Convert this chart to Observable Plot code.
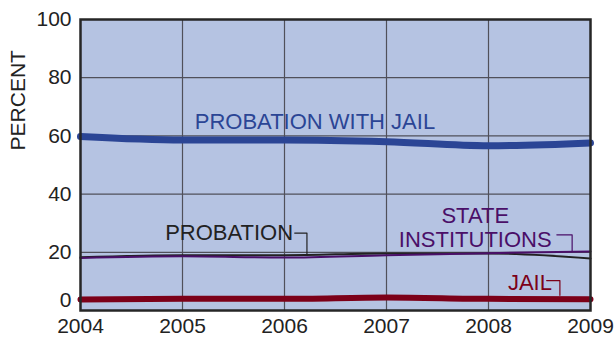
<!DOCTYPE html>
<html><head><meta charset="utf-8">
<script src="https://cdn.jsdelivr.net/npm/d3@7"></script>
<script src="https://cdn.jsdelivr.net/npm/@observablehq/plot@0.6"></script>
<style>body{margin:0;background:#fff;}</style>
</head><body><div id="chart"></div>
<script>
// ---- data ----
const years = [2004, 2005, 2006, 2007, 2008, 2009];
const probationWithJail = [59.8, 58.6, 58.6, 58.0, 56.6, 57.6];
const probation = [18.3, 19.0, 19.0, 19.6, 19.6, 17.9];
const stateInstitutions = [18.0, 18.6, 18.2, 19.0, 19.7, 20.3];
const jail = [3.8, 4.0, 4.0, 4.5, 4.0, 3.9];
const yTickValues = [20, 40, 60, 80, 100];
const zeroTick = [0];
const yLabel = "PERCENT";

// annotation labels (data coordinates)
const labelText = ["PROBATION WITH JAIL", "PROBATION", "STATE", "INSTITUTIONS", "JAIL"];
const labelSeries = ["PROBATION WITH JAIL", "PROBATION", "STATE INSTITUTIONS", "STATE INSTITUTIONS", "JAIL"];
const labelYear = [2005.12, 2004.83, 2007.87, 2007.87, 2008.19];
const labelValue = [64.8, 26.6, 32.4, 24.3, 9.3];
const labelAnchor = ["start", "start", "middle", "middle", "start"];
// leader lines: [series, year, value]
const leaderPts = [
  ["PROBATION", 2006.10, 26.6], ["PROBATION", 2006.22, 26.6], ["PROBATION", 2006.22, 19.3],
  ["STATE INSTITUTIONS", 2008.67, 26.0], ["STATE INSTITUTIONS", 2008.82, 26.0], ["STATE INSTITUTIONS", 2008.82, 20.5],
  ["JAIL", 2008.57, 10.3], ["JAIL", 2008.70, 10.3], ["JAIL", 2008.70, 5.2]
];

const colors = {
  "PROBATION WITH JAIL": "#2b4595",
  "PROBATION": "#222222",
  "STATE INSTITUTIONS": "#4a0f68",
  "JAIL": "#7c0019"
};
const widths = {"PROBATION WITH JAIL": 7, "PROBATION": 2, "STATE INSTITUTIONS": 2, "JAIL": 6};
const seriesOrder = ["PROBATION", "STATE INSTITUTIONS", "JAIL", "PROBATION WITH JAIL"];
const seriesVals = {
  "PROBATION WITH JAIL": probationWithJail,
  "PROBATION": probation,
  "STATE INSTITUTIONS": stateInstitutions,
  "JAIL": jail
};
const rows = seriesOrder.flatMap(s => years.map((y, i) => ({series: s, year: y, value: seriesVals[s][i]})));
const labels = labelText.map((t, i) => ({
  text: t, year: labelYear[i], value: labelValue[i], anchor: labelAnchor[i], color: colors[labelSeries[i]]
}));
const leaders = leaderPts.map(([s, y, v]) => ({series: s, year: y, value: v}));

const FONT = "'Liberation Sans', Arial, Helvetica, sans-serif";

const chart = Plot.plot({
  width: 614,
  height: 337,
  marginLeft: 80,
  marginRight: 24,
  marginTop: 19,
  marginBottom: 27,
  style: {fontFamily: FONT, fontSize: "21px", color: "#222", background: "#fff"},
  x: {domain: [2004, 2009], ticks: years, tickFormat: d => String(d), tickSize: 0, tickPadding: 8, label: null},
  y: {domain: [0, 100], ticks: yTickValues, tickSize: 0, tickPadding: 9, label: null},
  marks: [
    Plot.frame({fill: "#b5c3e2"}),
    Plot.ruleX(years.slice(1, -1), {stroke: "#50505a", strokeWidth: 1.2}),
    Plot.ruleY(yTickValues.slice(0, -1), {stroke: "#50505a", strokeWidth: 1.2}),
    ...seriesOrder.map(s => Plot.line(rows.filter(r => r.series === s), {
      x: "year", y: "value", stroke: colors[s], strokeWidth: widths[s], curve: "monotone-x"
    })),
    ...seriesOrder.filter(s => s !== "PROBATION WITH JAIL").map(s => Plot.line(leaders.filter(r => r.series === s), {
      x: "year", y: "value", stroke: colors[s], strokeWidth: 1.2
    })),
    Plot.frame({stroke: "#262626", strokeWidth: 2.5}),
    ...labels.map(l => Plot.text([l], {
      x: "year", y: "value", text: "text", fill: l.color, textAnchor: l.anchor, fontSize: 22
    })),
    Plot.text(zeroTick, {y: d => d, text: d => String(d), frameAnchor: "left", dx: -9, dy: -10, textAnchor: "end", fill: "#222", fontSize: 21}),
    Plot.text([yLabel], {y: 55, text: d => d, frameAnchor: "left", dx: -62, rotate: -90, fill: "#222", fontSize: 21})
  ]
});
document.getElementById("chart").appendChild(chart);
</script>
</body></html>
